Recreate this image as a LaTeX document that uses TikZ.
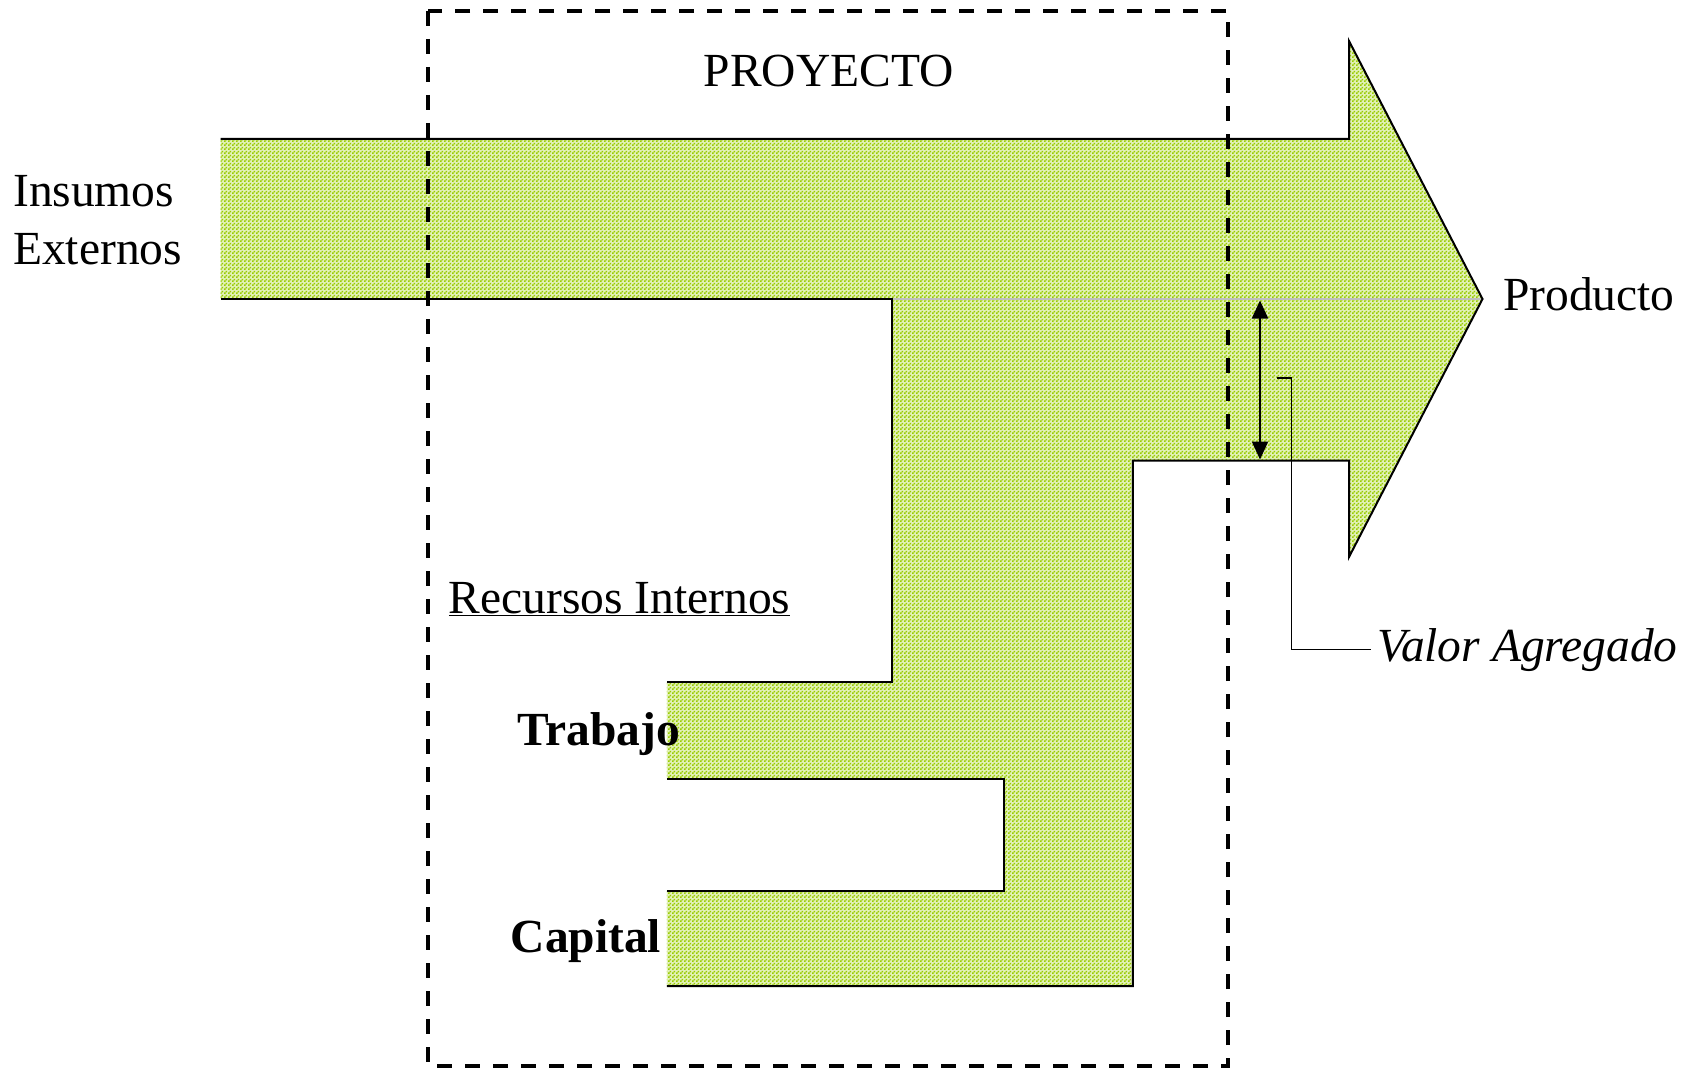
\documentclass[tikz,border=0pt]{standalone}
\usepackage{fontspec}
\setmainfont{Liberation Serif}
\usetikzlibrary{arrows.meta,patterns}
\definecolor{lime}{RGB}{153,204,0}
\pgfdeclarepatternformonly{checker}{\pgfqpoint{0pt}{0pt}}{\pgfqpoint{4pt}{4pt}}{\pgfqpoint{4pt}{4pt}}{%
  \pgfpathrectangle{\pgfqpoint{0pt}{0pt}}{\pgfqpoint{2pt}{2pt}}%
  \pgfpathrectangle{\pgfqpoint{2pt}{2pt}}{\pgfqpoint{2pt}{2pt}}%
  \pgfusepath{fill}}
\begin{document}
\begin{tikzpicture}[x=1pt,y=-1pt,
  underlay/.style={fill=lime!28},
  flow/.style={pattern=checker,pattern color=lime},
  edge/.style={draw=black,line width=2pt,line join=miter},
  frame/.style={draw=black,line width=3.5pt,dash pattern=on 15pt off 13pt},
  lbl/.style={inner sep=0pt,font=\fontsize{47.5}{57}\selectfont},
  dim/.style={line width=2.2pt,{Triangle[width=16pt,length=18pt]}-{Triangle[width=16pt,length=18pt]}},
  leader/.style={line width=1.6pt}]
\useasboundingbox (0,0) rectangle (1703,1070);
% shape coordinates
\coordinate (a1) at (220.5,139);
\coordinate (a2) at (1349,139);
\coordinate (a3) at (1349,41);
\coordinate (tip) at (1482.5,299);
\coordinate (a5) at (1349,557);
\coordinate (a6) at (1349,460.5);
\coordinate (a7) at (1132.8,460.5);
\coordinate (a8) at (1132.8,986.2);
\coordinate (a9) at (666.9,986.2);
\coordinate (a10) at (666.9,890.6);
\coordinate (a11) at (1003.6,890.6);
\coordinate (a12) at (1003.6,778.7);
\coordinate (a13) at (666.9,778.7);
\coordinate (a14) at (666.9,682);
\coordinate (a15) at (891.7,682);
\coordinate (a16) at (891.7,299);
\coordinate (a17) at (220.5,299);
% fill
\fill[underlay] (a1) -- (a2) -- (a3) -- (tip) -- (a5) -- (a6) -- (a7) -- (a8) -- (a9) -- (a10) -- (a11) -- (a12) -- (a13) -- (a14) -- (a15) -- (a16) -- (a17) -- cycle;
\fill[flow] (a1) -- (a2) -- (a3) -- (tip) -- (a5) -- (a6) -- (a7) -- (a8) -- (a9) -- (a10) -- (a11) -- (a12) -- (a13) -- (a14) -- (a15) -- (a16) -- (a17) -- cycle;
% internal boundary
\draw[line width=2pt,black!25] (a16) -- (tip);
% outlines
\draw[edge] (a1) -- (a2) -- (a3) -- (tip) -- (a5) -- (a6) -- (a7) -- (a8) -- (a9);
\draw[edge] (a10) -- (a11) -- (a12) -- (a13);
\draw[edge] (a14) -- (a15) -- (a16) -- (a17);
% project frame
\draw[frame] (428,11) rectangle (1228,1066);
% value added dimension
\coordinate (d1) at (1260,300.5);
\coordinate (d2) at (1260,459.5);
\draw[dim] (d1) -- (d2);
\coordinate (l1) at (1277,378);
\coordinate (l2) at (1291.4,378);
\coordinate (l3) at (1291.4,649.5);
\coordinate (l4) at (1370.7,649.5);
\draw[leader] (l1) -- (l2) -- (l3) -- (l4);
% labels
\node[lbl,anchor=base] (proy) at (828.7,87) {PROYECTO};
\node[lbl,anchor=base west] (ins1) at (13,206.5) {Insumos};
\node[lbl,anchor=base west] (ins2) at (13,264) {Externos};
\node[lbl,anchor=base west] (prod) at (1503,310) {Producto};
\node[lbl,anchor=base west] (rec) at (448.6,613) {\underline{Recursos Internos}};
\node[lbl,anchor=base west,font=\fontsize{47.5}{57}\selectfont\bfseries] (trab) at (517,745) {Trabajo};
\node[lbl,anchor=base west,font=\fontsize{47.5}{57}\selectfont\bfseries] (cap) at (510.5,952.6) {Capital};
\node[lbl,anchor=base west,font=\fontsize{47.5}{57}\selectfont\itshape] (val) at (1377,661.5) {Valor Agregado};
\end{tikzpicture}
\end{document}
